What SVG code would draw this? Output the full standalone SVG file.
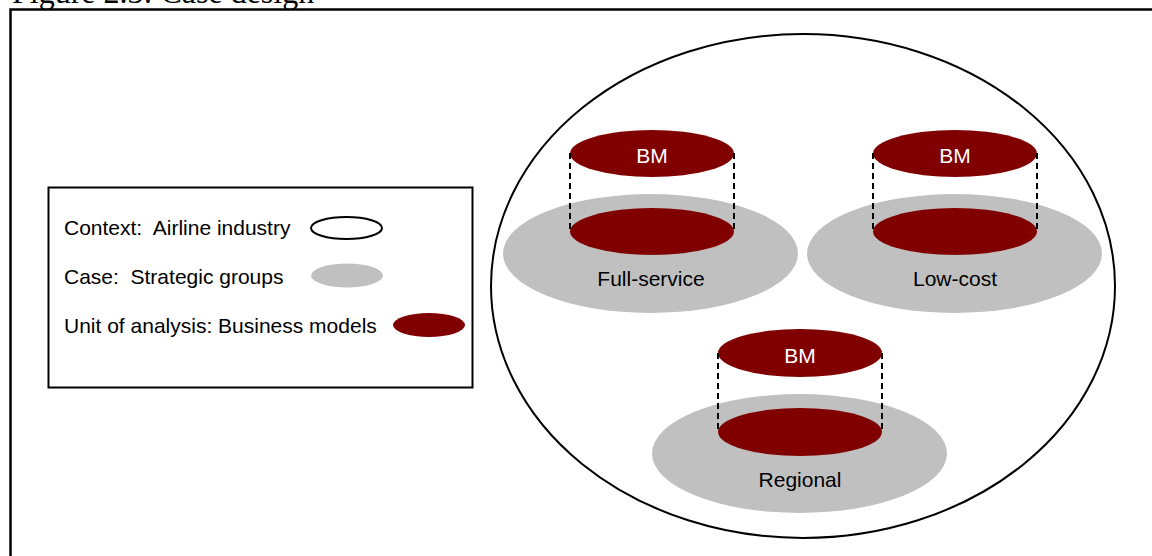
<svg xmlns="http://www.w3.org/2000/svg" width="1152" height="556" viewBox="0 0 1152 556">
<style>
.t{font-family:"Liberation Sans",Arial,sans-serif;font-size:21px;fill:#000}
.w{font-family:"Liberation Sans",Arial,sans-serif;font-size:21px;fill:#fff;text-anchor:middle}
.c{text-anchor:middle}
.bm{fill:#800000}
.sg{fill:#c0c0c0}
.dash{stroke:#000;stroke-width:2;stroke-dasharray:6,4;fill:none}
</style>
<rect width="1152" height="556" fill="#fff"/>
<text x="12" y="3" font-family="Liberation Serif,'Times New Roman',serif" font-size="32">Figure 2.3: Case design</text>
<rect x="10.5" y="9.5" width="1160" height="560" fill="none" stroke="#000" stroke-width="2.5"/>
<g id="context">
<ellipse cx="803" cy="286" rx="312" ry="252" fill="none" stroke="#000" stroke-width="2"/>
</g>
<g id="legend">
<rect x="48.5" y="187.5" width="424" height="200" fill="none" stroke="#000" stroke-width="2"/>
<text class="t" x="64" y="235" xml:space="preserve">Context:  Airline industry</text>
<ellipse cx="346.5" cy="228" rx="35.5" ry="11" fill="none" stroke="#000" stroke-width="2"/>
<text class="t" x="64" y="284" xml:space="preserve">Case:  Strategic groups</text>
<ellipse cx="347" cy="275.5" rx="36" ry="12" class="sg"/>
<text class="t" x="64" y="333">Unit of analysis: Business models</text>
<ellipse cx="429" cy="325" rx="36" ry="12" class="bm"/>
</g>
<g id="full-service">
<ellipse cx="650.5" cy="253.5" rx="147.5" ry="59.5" class="sg"/>
<ellipse cx="652" cy="231.5" rx="82" ry="23.5" class="bm"/>
<ellipse cx="652" cy="153.5" rx="82" ry="23.5" class="bm"/>
<text class="w" x="652" y="163">BM</text>
<text class="t c" x="651" y="286">Full-service</text>
</g>
<g id="low-cost">
<ellipse cx="954.5" cy="253.5" rx="147.5" ry="59.5" class="sg"/>
<ellipse cx="955" cy="231.5" rx="82" ry="23.5" class="bm"/>
<ellipse cx="955" cy="153.5" rx="82" ry="23.5" class="bm"/>
<text class="w" x="955" y="163">BM</text>
<text class="t c" x="955" y="286">Low-cost</text>
</g>
<g id="regional">
<ellipse cx="799.5" cy="453.5" rx="147.5" ry="59.5" class="sg"/>
<ellipse cx="800" cy="432" rx="82" ry="24" class="bm"/>
<ellipse cx="800" cy="353" rx="82" ry="24" class="bm"/>
<text class="w" x="800" y="363">BM</text>
<text class="t c" x="800" y="487">Regional</text>
</g>
<g id="connectors">
<line class="dash" x1="570" y1="153" x2="570" y2="231"/>
<line class="dash" x1="734" y1="153" x2="734" y2="231"/>
<line class="dash" x1="873" y1="153" x2="873" y2="231"/>
<line class="dash" x1="1037" y1="153" x2="1037" y2="231"/>
<line class="dash" x1="718" y1="353" x2="718" y2="432"/>
<line class="dash" x1="882" y1="353" x2="882" y2="432"/>
</g>
</svg>
